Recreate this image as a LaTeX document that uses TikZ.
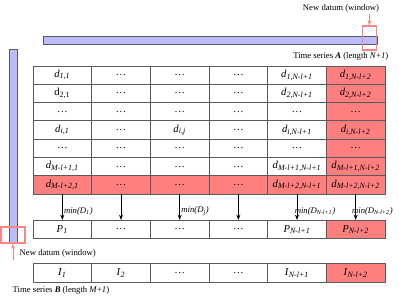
\documentclass[tikz,border=0pt]{standalone}
\usepackage{fontspec}
\setmainfont{Liberation Serif}
\usetikzlibrary{arrows.meta, positioning, calc}
\definecolor{cblue}{HTML}{BBBBFF}
\definecolor{cred}{HTML}{FF7F7F}
\definecolor{cwin}{HTML}{FF8585}
\definecolor{cgrey}{HTML}{5A5A5A}
\newcommand{\idx}[2]{\textit{#1}\textsubscript{\textit{#2}}}
\newcommand{\minD}[1]{\textit{min(D}\textsubscript{\textit{#1}}\textit{)}}
\tikzset{
  every picture/.style={font=\fontsize{6.5}{8}\selectfont, line width=0.6pt},
  cell/.style={draw=cgrey, fill=#1, minimum width=44pt, minimum height=13.7pt, inner sep=0pt, anchor=center, font=\fontsize{8}{9.5}\selectfont},
  cell/.default=white,
  bar/.style={draw=cgrey, fill=cblue, inner sep=0pt},
  window/.style={draw=cwin, line width=0.8pt, inner sep=0pt},
  arrow/.style={-{Stealth[length=4pt, width=3pt]}, draw=black},
  redarrow/.style={-{Stealth[length=4pt, width=3pt]}, draw=cwin, line width=0.7pt},
  note/.style={font=\fontsize{6.5}{8}\selectfont, inner sep=1pt},
}

\begin{document}
\begin{tikzpicture}[x=0.75pt, y=-0.75pt]
  \useasboundingbox (0,0) rectangle (399,297);
  % one row of the distance table: #1 name, #2 y, #3 cells (text/colour)
  \newcommand{\tabrow}[3]{%
    \foreach \t/\c [count=\j] in {#3} {
      \node[cell=\c] (#1-\j) at ({33+58.67*(\j-0.5)},#2) {\t};
    }
  }
  % series A along the top
  \node[bar, minimum width=250.5pt, minimum height=6pt] (serA) at (210,40) {};
  \node[window, minimum width=11pt, minimum height=18pt] (winA) at (369.5,38) {};
  \node[note] (labA) at (341,8) {New datum (window)};
  \draw[redarrow] (winA.north |- labA.south) -- (winA.north);
  \node[note, anchor=east] (nameA) at (390,56) {Time series \textbf{\textit{A}} (length \textit{N}+\textit{1})};
  % series B down the left
  \node[bar, minimum width=6pt, minimum height=145.5pt] (serB) at (13.5,146) {};
  \node[window, minimum width=18pt, minimum height=12pt] (winB) at (13,235) {};
  \node[note, anchor=west] (labB) at (18,253) {New datum (window)};
  \coordinate (startB) at (13,260);
  \draw[redarrow] (startB) -- (winB.south);
  \node[note, anchor=west] (nameB) at (11,290) {Time series \textbf{\textit{B}} (length \textit{M}+\textit{1})};
  % the distance table
  \tabrow{r1}{75.1}{{\idx{d}{1,1}}/white, \dots/white, \dots/white, \dots/white, {\idx{d}{1,N-l+1}}/white, {\idx{d}{1,N-l+2}}/cred}
  \tabrow{r2}{93.4}{{d\textsubscript{2,1}}/white, \dots/white, \dots/white, \dots/white, {\idx{d}{2,N-l+1}}/white, {\idx{d}{2,N-l+2}}/cred}
  \tabrow{r3}{111.7}{\dots/white, \dots/white, \dots/white, \dots/white, \dots/white, \dots/cred}
  \tabrow{r4}{130}{{\idx{d}{i,1}}/white, \dots/white, {\idx{d}{i,j}}/white, \dots/white, {\idx{d}{i,N-l+1}}/white, {\idx{d}{i,N-l+2}}/cred}
  \tabrow{r5}{148.3}{\dots/white, \dots/white, \dots/white, \dots/white, \dots/white, \dots/cred}
  \tabrow{r6}{166.6}{{\idx{d}{M-l+1,1}}/white, \dots/white, \dots/white, \dots/white, {\idx{d}{M-l+1,N-l+1}}/white, {\idx{d}{M-l+1,N-l+2}}/cred}
  \tabrow{r7}{184.9}{{\idx{d}{M-l+2,1}}/cred, \dots/cred, \dots/cred, \dots/cred, {\idx{d}{M-l+2,N-l+1}}/cred, {\idx{d}{M-l+2,N-l+2}}/cred}
  % minima and indices
  \tabrow{p}{229.5}{{\idx{P}{1}}/white, \dots/white, \dots/white, \dots/white, {\idx{P}{N-l+1}}/white, {\idx{P}{N-l+2}}/cred}
  \tabrow{ix}{273}{{\idx{I}{1}}/white, {\idx{I}{2}}/white, \dots/white, \dots/white, {\idx{I}{N-l+1}}/white, {\idx{I}{N-l+2}}/cred}
  \foreach \j in {1,...,6} {
    \draw[arrow] (r7-\j.south) -- (p-\j.north);
  }
  \node[note, anchor=west] (m1) at ($(r7-1.south)!0.65!(p-1.north)$) {\minD{1}};
  \node[note, anchor=west] (m3) at ($(r7-3.south)!0.65!(p-3.north)$) {\minD{j}};
  \node[note, anchor=west, xshift=-3pt] (m5) at ($(r7-5.south)!0.65!(p-5.north)$) {\minD{N-l+1}};
  \node[note, anchor=west, xshift=-4pt] (m6) at ($(r7-6.south)!0.65!(p-6.north)$) {\minD{N-l+2}};
\end{tikzpicture}
\end{document}
